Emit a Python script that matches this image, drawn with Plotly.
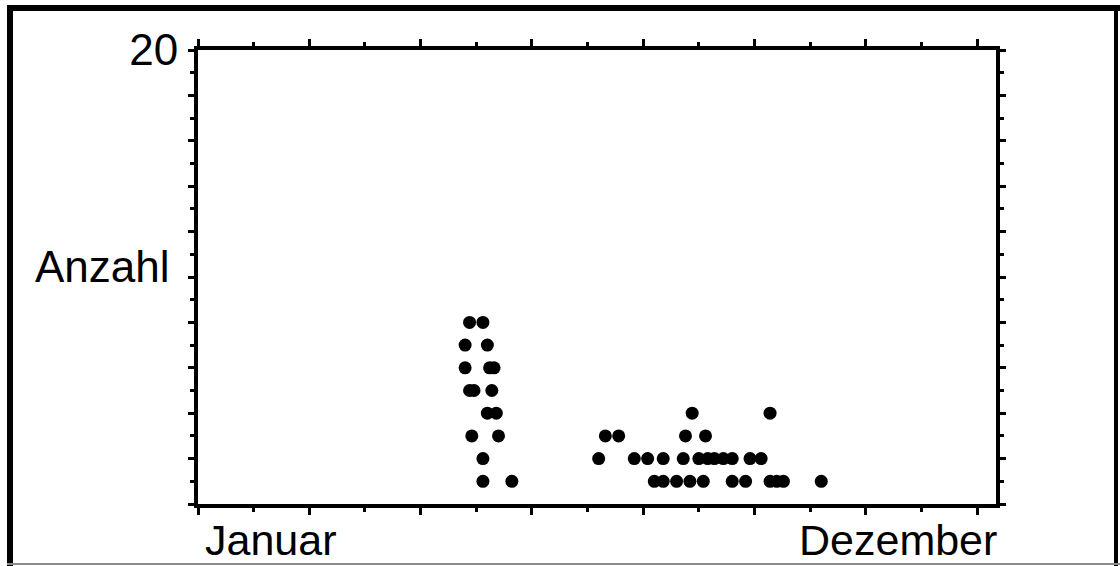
import plotly.graph_objects as go

# Day of year (x) and count "Anzahl" (y) for each observation
days = [122, 128,
        120, 130,
        120, 131, 133,
        122, 124, 132,
        130, 134, 222, 257,
        123, 135, 183, 189, 219, 228,
        128, 180, 196, 202, 209, 218, 225, 229, 232, 236, 240, 248, 253,
        128, 141, 205, 209, 215, 221, 227, 240, 246, 257, 260, 263, 280]
anzahl = [8, 8,
          7, 7,
          6, 6, 6,
          5, 5, 5,
          4, 4, 4, 4,
          3, 3, 3, 3, 3, 3,
          2, 2, 2, 2, 2, 2, 2, 2, 2, 2, 2, 2, 2,
          1, 1, 1, 1, 1, 1, 1, 1, 1, 1, 1, 1, 1]

x_major_ticks = list(range(0, 351, 50))
x_minor_ticks = list(range(25, 351, 50))
y_major_ticks = list(range(0, 21, 2))
y_minor_ticks = list(range(1, 20, 2))
y_tick_text = [""] * 10 + ["20"]
x_labels = ["Januar", "Dezember"]
y_label = "Anzahl"

FONT = "Liberation Sans, Arial, Helvetica, sans-serif"
L, R, T, B = 198, 124, 50, 62
W, H = 1120, 566
PW, PH = W - L - R, H - T - B


def px_x(px):
    return (px - L) / PW


def px_y(py):
    return (H - B - py) / PH


fig = go.Figure()
fig.add_trace(go.Scatter(
    x=days, y=anzahl, mode="markers",
    marker=dict(size=13, color="black", line=dict(width=0)),
    showlegend=False, hoverinfo="x+y"))

axis_common = dict(showgrid=False, zeroline=False, showline=True, linecolor="black",
                   linewidth=4, mirror="ticks", ticks="outside", tickcolor="black",
                   tickwidth=3)

fig.update_xaxes(range=[0, 358.5], tickvals=x_major_ticks, ticklen=7,
                 showticklabels=False,
                 minor=dict(tickvals=x_minor_ticks, ticks="outside", ticklen=4,
                            tickwidth=3, tickcolor="black"),
                 **axis_common)
fig.update_yaxes(range=[0, 20], tickvals=y_major_ticks, ticktext=y_tick_text, ticklen=6,
                 ticklabelstandoff=1,
                 tickfont=dict(family=FONT, size=44, color="black"),
                 minor=dict(tickvals=y_minor_ticks, ticks="outside", ticklen=4,
                            tickwidth=3, tickcolor="black"),
                 **axis_common)

ann_font = dict(family=FONT, size=44, color="black")
lbl_font = dict(family=FONT, size=43, color="black")
fig.add_annotation(text=y_label, xref="paper", yref="paper", x=px_x(172), y=px_y(266),
                   xanchor="right", yanchor="middle", showarrow=False, font=ann_font)
fig.add_annotation(text=x_labels[0], xref="paper", yref="paper", x=px_x(203), y=px_y(514),
                   xanchor="left", yanchor="top", showarrow=False, font=lbl_font)
fig.add_annotation(text=x_labels[1], xref="paper", yref="paper", x=px_x(999), y=px_y(514),
                   xanchor="right", yanchor="top", showarrow=False, font=lbl_font)

# outer frame of the scanned figure
fig.add_shape(type="line", xref="paper", yref="paper", x0=px_x(7), x1=px_x(1120),
              y0=px_y(8), y1=px_y(8), line=dict(color="black", width=6))
fig.add_shape(type="line", xref="paper", yref="paper", x0=px_x(10), x1=px_x(10),
              y0=px_y(5), y1=px_y(566), line=dict(color="black", width=6))
fig.add_shape(type="line", xref="paper", yref="paper", x0=px_x(1116), x1=px_x(1116),
              y0=px_y(5), y1=px_y(566), line=dict(color="black", width=4))
fig.add_shape(type="line", xref="paper", yref="paper", x0=px_x(7), x1=px_x(1120),
              y0=px_y(564), y1=px_y(564), line=dict(color="#8a8a8a", width=2))

fig.update_layout(width=W, height=H, margin=dict(l=L, r=R, t=T, b=B),
                  plot_bgcolor="white", paper_bgcolor="white",
                  font=dict(family=FONT, color="black"))

fig.write_html("out.html", config={"displayModeBar": False},
               post_script="document.body.style.margin='0';document.body.style.overflow='hidden';")
